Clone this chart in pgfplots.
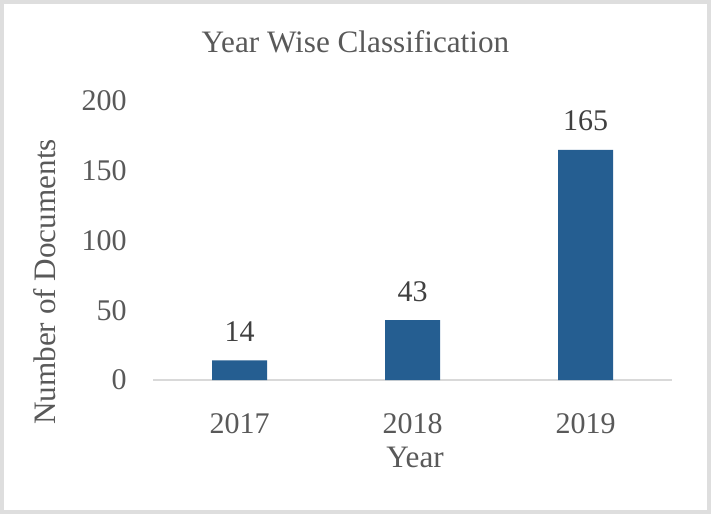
\documentclass[border=0pt]{standalone}
\usepackage{fontspec}
\setmainfont{Liberation Serif}
\usepackage{pgfplots}
\pgfplotsset{compat=1.18}
\definecolor{barblue}{HTML}{255E91}
\definecolor{txtgray}{HTML}{595959}
\definecolor{lblgray}{HTML}{404040}
\definecolor{axgray}{HTML}{D9D9D9}
\definecolor{framegray}{HTML}{DEDEDE}
\newcommand{\chartfont}{\fontsize{15}{18}\selectfont}
\newcommand{\labelfont}{\fontsize{15.6}{18}\selectfont}

\begin{document}
\begin{tikzpicture}[x=1pt,y=1pt]
% background and outer frame
\fill[white] (0,0) rectangle (355.5,257);
\draw[framegray, line width=2pt] (1,1) rectangle (354.5,256);
\begin{axis}[
  at={(76.5pt,67pt)}, anchor=south west,
  scale only axis, width=259.5pt, height=139.5pt,
  ybar, bar width=27.5pt,
  xmin=-0.5, xmax=2.5, ymin=0, ymax=200,
  xtick={0,1,2}, xticklabels={2017,2018,2019},
  ytick={0,50,...,200},
  axis x line*=bottom, axis y line*=left,
  y axis line style={draw=none},
  x axis line style={axgray, line width=1pt},
  tick style={draw=none},
  ticklabel style={font=\chartfont, text=txtgray},
  xticklabel style={anchor=base, yshift=-22.5pt},
  yticklabel style={anchor=east, inner sep=0pt, xshift=-13pt},
  /pgf/number format/assume math mode=true,
  nodes near coords,
  every node near coord/.append style={font=\chartfont, text=lblgray,
    anchor=base, yshift=9.5pt},
  clip=false,
]
\addplot[fill=barblue, draw=none] coordinates {(0,14) (1,43) (2,165)};
\end{axis}
\node[anchor=base, font=\labelfont, text=txtgray] at (177.75,230.5) {Year Wise Classification};
\node[rotate=90, font=\labelfont, text=txtgray] at (22.5,116) {Number of Documents};
\node[anchor=base, font=\labelfont, text=txtgray] at (207.5,23.5) {Year};
\end{tikzpicture}
\end{document}
